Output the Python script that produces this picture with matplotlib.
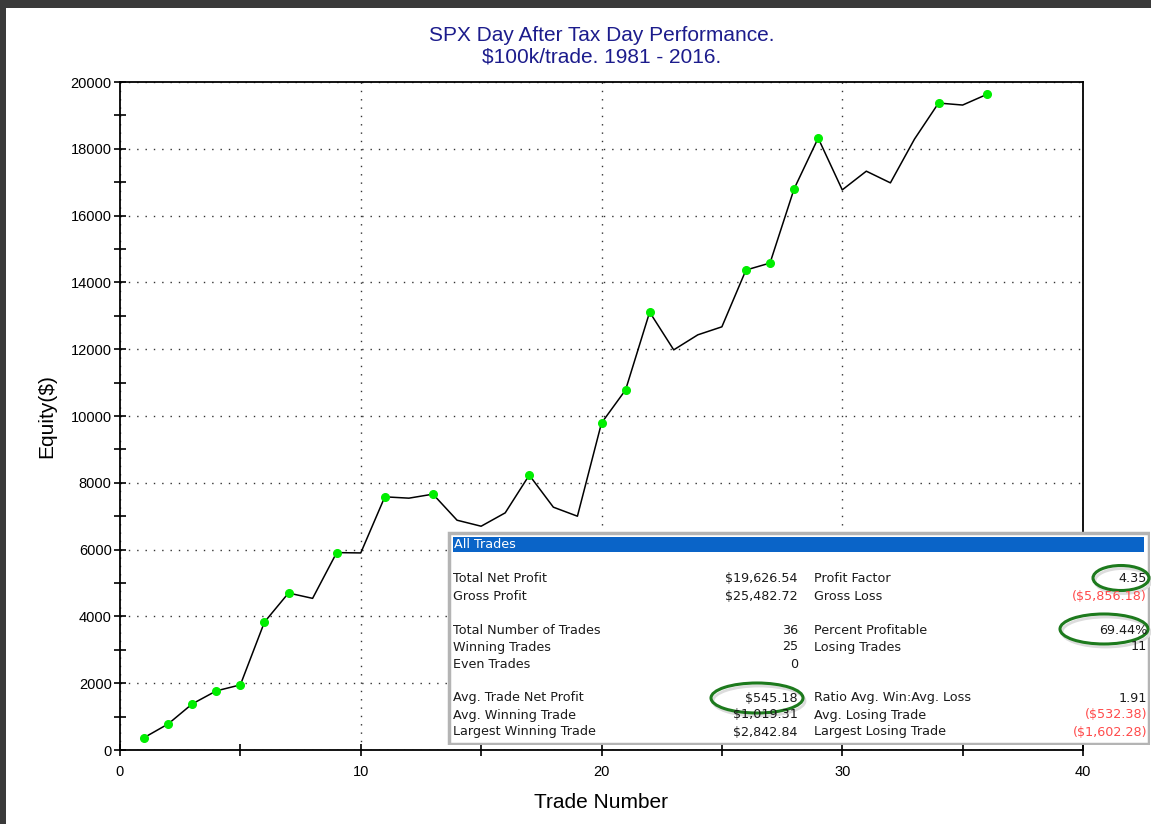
import matplotlib
matplotlib.use("Agg")
import matplotlib.pyplot as plt
from matplotlib.patches import Rectangle, Ellipse
import numpy as np

plt.rcParams['font.family'] = ['Liberation Sans', 'DejaVu Sans']

# equity after each trade
trades = np.arange(1, 37)
equity = [370, 780, 1380, 1770, 1950, 3830, 4700, 4540, 5910, 5900,
          7580, 7540, 7660, 6880, 6700, 7100, 8230, 7270, 7000, 9790,
          10780, 13110, 11980, 12430, 12670, 14370, 14580, 16800, 18320, 16770,
          17330, 16980, 18290, 19370, 19310, 19627]

# summary table
left_labels = ["Total Net Profit", "Gross Profit", "Total Number of Trades", "Winning Trades",
               "Even Trades", "Avg. Trade Net Profit", "Avg. Winning Trade", "Largest Winning Trade"]
left_values = ["$19,626.54", "$25,482.72", "36", "25", "0", "$545.18", "$1,019.31", "$2,842.84"]
right_labels = ["Profit Factor", "Gross Loss", "Percent Profitable", "Losing Trades",
                "", "Ratio Avg. Win:Avg. Loss", "Avg. Losing Trade", "Largest Losing Trade"]
right_values = ["4.35", "($5,856.18)", "69.44%", "11", "", "1.91", "($532.38)", "($1,602.28)"]
row_y = [48, 65, 99, 116, 133, 167, 184, 201]

fig = plt.figure(figsize=(11.51, 8.24), dpi=100)
ax = fig.add_axes([120/1151, 74/824, 963/1151, 668/824])

eq = np.array(equity)
ax.plot(trades, eq, color='black', lw=1.1, zorder=3)
# green dots mark new equity highs
prev_high = np.maximum.accumulate(np.concatenate([[0], eq[:-1]]))
new_high = eq > prev_high
ax.plot(trades[new_high], eq[new_high], 'o', color='#00ee00', ms=5.5, mec='#00ee00', zorder=4)

ax.set_xlim(0, 40)
ax.set_ylim(0, 20000)
ax.set_xticks([0, 10, 20, 30, 40])
ax.set_xticks(np.arange(0, 41, 5), minor=True)
ax.set_yticks(np.arange(0, 20001, 2000))
ax.set_yticks(np.arange(0, 20001, 1000), minor=True)
ax.tick_params(which='both', direction='inout', length=8, width=1.2, labelsize=10.5)
ax.tick_params(axis='x', pad=7)
ax.tick_params(axis='y', pad=2)
ax.grid(True, which='major', color='#333333', lw=1.0, linestyle=(0, (1, 5)))
for s in ax.spines.values():
    s.set_linewidth(1.3)

ax.set_xlabel("Trade Number", fontsize=15, labelpad=10)
ax.set_ylabel("Equity($)", fontsize=15, labelpad=10)
ax.set_title("SPX Day After Tax Day Performance.\n$100k/trade. 1981 - 2016.",
             fontsize=15, color='#1c1c8c', pad=14, linespacing=1.15)

# summary box
tb = fig.add_axes([447/1151, (824-745)/824, 703/1151, 214/824])
tb.set_xlim(0, 703)
tb.set_ylim(214, 0)
tb.axis('off')
tb.add_patch(Rectangle((1.5, 1.5), 700, 211, facecolor='white', edgecolor='#b4b4b4', lw=2.5))
tb.add_patch(Rectangle((6, 6), 691, 15, facecolor='#0a64c8', edgecolor='none'))
tb.text(7, 14, "All Trades", color='white', fontsize=9.2, va='center', family='DejaVu Sans')

tcol = '#1a1a1a'
red = '#ff4a4a'
fs = 9.2
for i in range(len(row_y)):
    y = row_y[i]
    tb.text(6, y, left_labels[i], fontsize=fs, va='center', color=tcol, family='DejaVu Sans')
    tb.text(351, y, left_values[i], fontsize=fs, va='center', ha='right', color=tcol, family='DejaVu Sans')
    tb.text(367, y, right_labels[i], fontsize=fs, va='center', color=tcol, family='DejaVu Sans')
    c = red if right_values[i].startswith('(') else tcol
    tb.text(700, y, right_values[i], fontsize=fs, va='center', ha='right', color=c, family='DejaVu Sans')

# highlight circles
for cx, cy, w, h in [(674, 47, 56, 25), (657, 98, 88, 30), (310, 167, 92, 30)]:
    tb.add_patch(Ellipse((cx + 2, cy + 3), w, h, fill=False, edgecolor='#dcdcdc', lw=2.0, clip_on=False))
    tb.add_patch(Ellipse((cx, cy), w, h, fill=False, edgecolor='#1d7a1d', lw=2.2, clip_on=False))

# dark frame at top and left edge
fig.patches.append(Rectangle((0, 1 - 8/824), 1, 8/824, transform=fig.transFigure,
                             facecolor='#3a3a3a', edgecolor='none'))
fig.patches.append(Rectangle((0, 0), 6/1151, 1, transform=fig.transFigure,
                             facecolor='#3a3a3a', edgecolor='none'))

fig.savefig("out.png", dpi=100)
